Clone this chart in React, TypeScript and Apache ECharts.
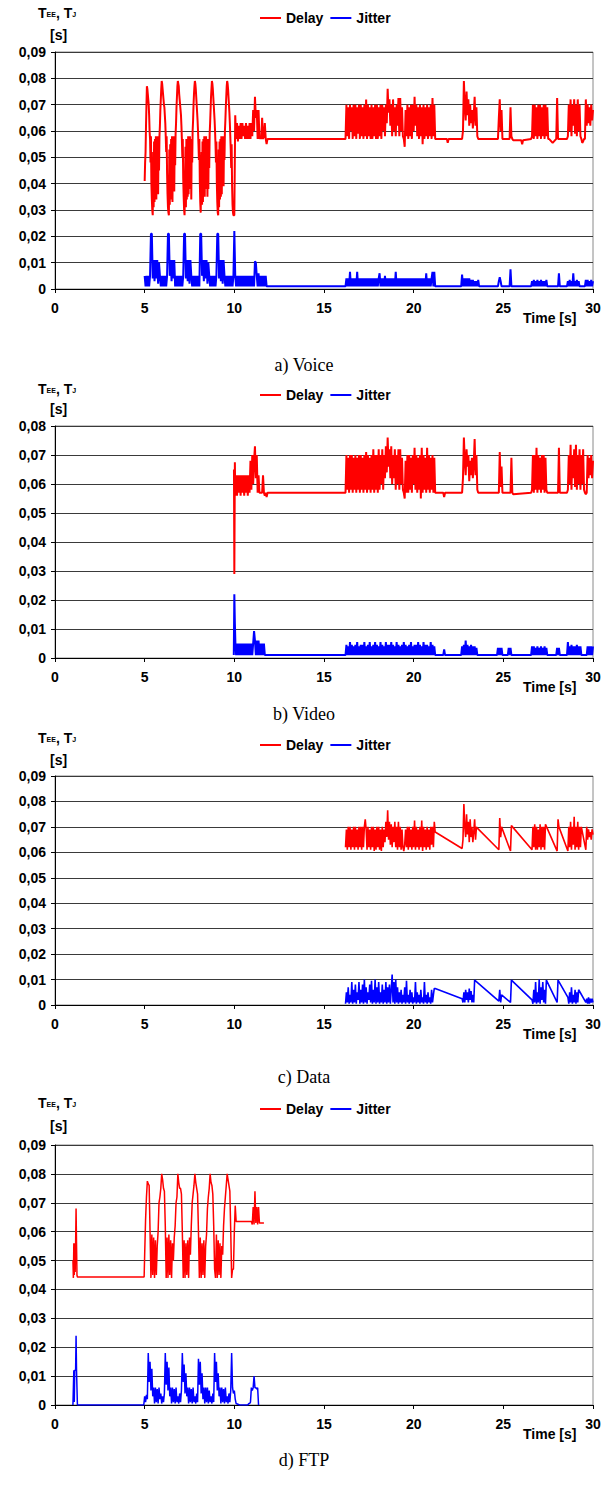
import React, { useEffect, useRef } from "react";
import * as echarts from "echarts";

// Each segment: [start time (s), time step (s), values in ms]
type Seg = [number, number, number[]];

const xTickStep = 5;
const xMax = 30;
const yMaxes = [0.09, 0.08, 0.09, 0.09];
const captions = ["a) Voice", "b) Video", "c) Data", "d) FTP"];
const seriesNames = ["Delay", "Jitter"];

// ---------- a) Voice ----------
const voiceDelay: Seg[] = [
  [5.0, 0.025, [
    41,48,52,62,70,77,76,74,72,70,66,60,57,48,58,40,34,30,
    28,52,31,56,33,57,35,58,34,57,38,58,36,57,45,58, 62,68,72,76, 79,78, 76,74,72,70,69,66,63,58,52,58,44,36,31,29,
    28,53,32,55,34,57,36,58,33,56,39,58,37,57,47,59, 63,69,73,77, 79,78, 77,74,72,70,68,66,62,57,50,57,42,35,30,28,
    28,54,31,57,34,56,35,58,36,57,40,58,38,56,34,57,48,60, 64,70,74,77, 79,78, 76,73,70,67,64,60,55,49,57,41,33,29,
    29,52,32,56,33,57,36,58,35,57,38,58,40,57,35,56,38,57,46,59, 63,68,73,76, 79,78, 76,73,70,67,64,60,55,48,56,40,33,29,
    28,53,31,56,34,57,35,58,36,57,41,58,39,57,49,60, 64,69,73,77, 79,78, 76,73,70,67,63,58,53,46,55,39,32,29,
    28,28,28]],
  [10.05, 0.05, [66,57,63,56,62,57,63,57,63,58,62,57,63,57,62,57,63,57,63,58,68,60,73,65,68,57,68,57,58,57,65,57,58,63,57,55]],
  [11.85, 4.3, [57,57]],
  [16.2, 0.05, [57,70,58,69,57,70,60,69,57,70, 58,70,57,69,59,70,57,70,58,69, 57,70,58,72,57,70,58,69,57,70, 57,69,58,70,57,70,57,69,58,70, 57,70,60,69,58,70,63,76,67,72, 62,70,58,72,60,69,58,70,62,72.5, 58,72.5,60,69,58,57,54,68,58,70, 57,69,58,70,57,70,60,73,62,70, 58,69,57,70,58,69,55,70,57,69, 58,70,57,69,58,70,57,72.5,58,70, 57]],
  [21.25, 0.6, [57,57]],
  [21.9, 0.05, [55.5,57]],
  [22.0, 0.65, [57,57]],
  [22.7, 0.05, [57,60,79,70,64,75,66,72,62,70,63,68,61,66,73,62,69,58,57]],
  [23.65, 1.05, [57,57]],
  [24.75, 0.05, [65,72,60,68,57]],
  [25.0, 0.35, [57,57]],
  [25.4, 0.05, [69,58,57]],
  [25.55, 0.45, [56.5,56.5]],
  [26.05, 0.05, [55,56.5]],
  [26.1, 0.45, [56.5,57]],
  [26.6, 0.05, [58,70,57,70,58,69,57,70,58,70,57,69,58,70,57,70,58,69,57]],
  [27.55, 0.2, [57,55.5,57]],
  [28.0, 0.05, [72.5,57]],
  [28.1, 0.45, [57,57]],
  [28.6, 0.05, [58,70,60,72,58,70,62,72,59,70,58,72,60,70,58,57]],
  [29.4, 0.05, [55.5,56,57,57,72]],
  [29.65, 0.05, [62,70,63,69,62,70,64,68]],
];
const voiceJitter: Seg[] = [
  [5.0, 0.05, [5,1,5,1,5,1,5,21,21,4, 11,3,11,4,11,2,10,5,1,5, 1,5,1,5,1,5,21,21,5,11, 3,11,4,11,1,5,1,5,1,5, 1,5,1,5,21,21,4,11,3,11, 2,11,5,1,5,1,5,1,5,1, 5,1,21,21,5,11,3,11,4,11, 2,10,5,1,5,1,5,1,5,1, 5,21,21,4,11,3,11,2,11,5, 1,5,1,5,1,5,1,5,1,5, 22]],
  [10.05, 0.05, [5,1,5,1,5,1,5,1,5,1,5,1,5,1,5,1,5,1,5,1,5,1,10.5,10,5,1,6,1,5,1,5,1,5,1,5,1]],
  [11.85, 4.3, [1,1]],
  [16.2, 0.05, [1,4,1,4,1,6.5,1,4,1,4, 1,4,1,6.5,1,4,1,4,1,4, 1,4,1,4,1,4,1,4,1,4, 1,4,1,4,1,4,1,4,6,1, 4,1,4,1,5,1,4,1,4,1, 4,1,4,1,4,1,6.5,1,4,1, 4,1,4,1,4,1,4,1,4,1, 4,1,4,1,4,1,4,1,4,1, 4,1,4,1,4,1,4,1,4,1, 6,1,4,1,4,1,4,6.5,1,6.5, 1]],
  [21.25, 1.4, [1,1]],
  [22.7, 0.05, [5.5,1,4,1,4,1,4,1,4,1,3.5,1,3.5,1,3,1,3,1,3.5,1,1]],
  [23.75, 0.95, [1,1]],
  [24.75, 0.05, [3,4.5,3,1]],
  [24.95, 0.4, [1,1]],
  [25.4, 0.05, [7.5,1]],
  [25.5, 1.05, [1,1]],
  [26.6, 0.05, [3,1,3.5,1,3,1,3.5,1,3,1,3.5,1,3,1,3,1,3.5,1,1]],
  [27.55, 0.5, [1,1]],
  [28.1, 0.05, [6,1,1]],
  [28.25, 0.3, [1,1]],
  [28.6, 0.05, [3,1,3.5,1,3,1,6,1,3,1,3.5,1,3,1,1]],
  [29.35, 0.2, [1,1]],
  [29.6, 0.05, [3.5,1,3.5,1,3,1,3.5,1,3]],
];

// ---------- b) Video ----------
const videoDelay: Seg[] = [
  [9.98, 0.02, [65,29]],
  [10.03, 0.02, [67.5]],
  [10.05, 0.05, [56,63,56,63,57,63,56,63,57,63,56,63,57,63,56,63,57,68,58,70,60,68,73,62,70,57,63,57,57,57,57,63,57,56,57]],
  [11.8, 0.05, [55.5,57]],
  [11.9, 4.25, [57,57]],
  [16.2, 0.05, [57,70,58,69,57,70,58,70,57,69, 58,70,57,69,58,70,57,70,58,69, 57,70,58,71,57,70,58,69,57,70, 58,72,57,70,58,70,57,72,58,70, 60,72,58,70,62,73,64,76,66,72, 62,73,60,70,62,72,58,70,60,72, 58,72,60,69,58,57,55,68,57,70, 57,70,58,69,57,70,60,72.5,58,70, 57,69,58,70,55,72.5,57,70,58,69, 57,72.5,58,70,57,69,58,70,57,69, 57]],
  [21.25, 0.4, [57,57]],
  [21.7, 0.05, [55.5,57]],
  [21.8, 0.85, [57,57]],
  [22.7, 0.05, [57,62,76,68,63,72,66,70,61,68,63,69,62,67,75.5,63,70,58,57]],
  [23.65, 1.1, [57,57]],
  [24.8, 0.05, [71,59,66,57]],
  [25.0, 0.4, [57,57]],
  [25.45, 0.05, [69,57]],
  [25.55, 1.0, [56.5,57]],
  [26.6, 0.05, [58,70,57,70,58,72.5,57,70,58,69,57,70,58,70,57,69,58,57]],
  [27.5, 0.55, [57,57]],
  [28.1, 0.05, [72.5,57]],
  [28.2, 0.35, [57,57]],
  [28.6, 0.05, [58,70,60,73.5,58,70,62,72,59,73.5,58,70,60,72,58,70,60,72,58,57]],
  [29.6, 0.05, [56.5,57,70,62,69,63,70,62,68]],
];
const videoJitter: Seg[] = [
  [9.97, 0.03, [1,22,12,5]],
  [10.1, 0.05, [1,5,1,5,1,5,1,5,1,5,1,5,1,5,1,5,1,5,1,5,9.3,6,1,6,1,6,1,5,1,5,1,5,1]],
  [11.75, 4.4, [1,1]],
  [16.2, 0.05, [1,4.5,1,4,1,5.5,1,4.5,1,4, 1,4.5,1,5.5,1,4,1,4.5,1,4.5, 1,5.5,1,4,1,4.5,1,5.5,1,4, 1,4.5,1,5.5,1,4.5,1,4,1,5.5, 1,4.5,1,4,1,5.5,1,4.5,1,4.5, 1,5.5,1,4.5,1,4,1,5.5,1,4.5, 1,4,1,4.5,1,5.5,1,4.5,1,4, 1,4.5,1,5.5,1,4,1,4.5,1,4.5, 1,5.5,1,4.5,1,4,1,5.5,1,4.5, 1,4.5,1,4,1,5.5,1,4.5,1,4, 1]],
  [21.25, 0.4, [1,1]],
  [21.7, 0.05, [3,1]],
  [21.8, 0.85, [1,1]],
  [22.7, 0.05, [4,1,4.5,1,6,1,4.5,1,4,1,4.5,1,4,1,4,1,3.5,1,1]],
  [23.65, 1.0, [1,1]],
  [24.7, 0.05, [3.5,1,3.5,1,3.5,1,1]],
  [25.05, 0.2, [1,1]],
  [25.3, 0.05, [3.5,1,3.5,1,1]],
  [25.55, 1.0, [1,1]],
  [26.6, 0.05, [4,1,4,1,3.5,1,4,1,3.5,1,4,1,3.5,1,4,1,3.5,1,1]],
  [27.55, 0.4, [1,1]],
  [28.0, 0.05, [3.5,1,3.5,1,1]],
  [28.25, 0.3, [1,1]],
  [28.6, 0.05, [5.5,1,4,1,4.5,1,4,1,4,1,4.5,1,4,1,4,1,1]],
  [29.45, 0.2, [1,1]],
  [29.7, 0.05, [4,1,4,1,4,1,4]],
];

// ---------- c) Data ----------
const dataDelay: Seg[] = [
  [16.2, 0.05, [62,69,61,70,62,70,61,69,62,70, 61,70,62,69,61,70,62,70,61,70, 62,70,73,69,61,70,62,69,61,70, 62,70,60.5,69,61,70,62,70,61,69, 60.5,70,62,69,64,72,66,76.5,65,72, 63,71,62,70,64,72,62,70,61,72, 62,70,61,69,62,60.5,63,69,62,70, 61,70,62,69,61,70,62,72.5,61,70, 62,69,61,70,62,72.5,60.5,70,62,69, 61,70,62,69,61,70,63,70,62,72, 68]],
  [22.7, 0.05, [61.5,65,79,70,66,75,67,72,64,73,66,70,64,68,73,65,70,69.5]],
  [24.75, 0.05, [61,73.5,66,70]],
  [25.4, 0.05, [60.5,70.5]],
  [26.6, 0.05, [61,70,62,71,61,70,61,69,62,71,61,70,62,70,61,71]],
  [28.0, 0.05, [60.5,73,70]],
  [28.6, 0.05, [60.5,70,62,72,61,70,63,74,61,70,62,72,61,70,62,70]],
  [29.6, 0.05, [61,70,65,69,66,68,65,69,67]],
];
const dataJitter: Seg[] = [
  [16.2, 0.05, [0.5,5,1,7,0.5,4,1,9,0.5,6, 1,8,0.5,5,2,9,0.5,6,1,8, 0.5,10,1,7,0.5,5,2,8,1,9.5, 0.5,6,1,10,0.5,7,1,9,0.5,5, 1,8,0.5,6,1,9,0.5,7,1,8, 0.5,6,12,1,9,0.5,10,1,7,0.5, 5,1,6,0.5,4,1,7,0.5,9.5,1, 4,0.5,6,1,5,0.5,3,1,9,0.5, 5,1,4,0.5,6,1,3,0.5,9,1, 4,0.5,5,1,3,0.5,6,1,4,6.5, 6.5]],
  [22.7, 0.05, [2.5,1,5,1,6,2,5,1,6.5,2,5.5,1,4,1,9.8]],
  [24.75, 0.05, [1.5,6,1,4]],
  [25.4, 0.05, [1,9.8]],
  [26.6, 0.05, [2,0.5,6,1,9,0.5,5,1,10,0.5,7,2,9,1,6,0.5,9.8]],
  [28.0, 0.05, [1,9.8]],
  [28.6, 0.05, [3,0.5,5,1,7,0.5,4,1,6,0.5,5,1,6]],
  [29.6, 0.05, [1,2.5,0.5,3,0.5,2.5,1,2.5,1]],
];

// ---------- d) FTP ----------
const ftpDelay: Seg[] = [
  [1.0, 0.025, [50,44,56,45,56,46,56,68,56,45,44.3,44.3]],
  [4.97, 0.03, [44.3]],
  [5.0, 0.05, [52,64,72,77.5,76.5,76,60,44,59,45, 58,44,57,45,55,60,70,72,75,80, 78,75,74,62,44,58,44,59,45,57, 44,56,50,58,62,70,72,80,77,75, 75,73,60,44,57,44,56,45,57,44, 58,52,62,70,73,76,80,77,75,73, 60,44,58,44,56,45,57,44,55,59, 68,72,75,80,77,76,73,62,47,44, 59,44,57,45,56,44,55,52,62,68, 72,76,80,78,76,74,60,44,47,47, 60,69,63.5,63.5]],
  [10.2, 0.75, [63.5,63.5]],
  [11.0, 0.05, [62.5,68.5,62.5,74,63,68.5,62.5,68.5,63,63]],
  [11.65, 0.05, [63]],
];
const ftpJitter: Seg[] = [
  [1.0, 0.025, [0,6,12,1,12,12,12,24,12,12,0]],
  [4.95, 0.05, [0]],
  [5.0, 0.05, [3,1,3.5,2,18,8,15,5,12.5,3, 6,0.5,6,1,5.5,0.5,6,2,4,0.5, 3,1,4,18,7,15,5,13,3,6, 0.5,6,1,5.5,0.5,6,1,3,0.5,4, 1,5,18,8,14,4,11,3,6,0.5, 6,1,5.5,0.5,6,1,3,0.5,4,1, 16,7,15,4,11,2,6,0.5,6,1, 6,0.5,5,1,3,0.5,4,1,18,8, 15,5,11,3,6,0.5,6,1,5.5,0.5, 6,1,3,0.5,4,1,5,18,6,4, 5,2,0.5]],
  [10.3, 0.45, [0,0]],
  [10.8, 0.05, [0.5,0.5,1,6,5,6,10,6,6,5.5,6,0]],
];

const delaySets = [voiceDelay, videoDelay, dataDelay, ftpDelay];
const jitterSets = [voiceJitter, videoJitter, dataJitter, ftpJitter];

// ---------- layout (pixels) ----------
const plotLeft = 55;
const plotWidth = 538;
const plotTops = [52, 426, 776, 1145];
const plotBottoms = [289, 658, 1005, 1405];
const headYs = [15, 391, 740, 1105];
const unitYs = [35, 409, 760, 1126];
const legendTops = [10, 387, 737, 1101];
const captionYs = [365, 714, 1077, 1460];
const lineWidths = [2, 2, 1.6, 1.5];

const SANS = "'Liberation Sans', Arial, sans-serif";
const SERIF = "'Liberation Serif', 'Times New Roman', serif";

function toPoints(segs: Seg[]): number[][] {
  const out: number[][] = [];
  segs.forEach(([t0, dt, vals]) => {
    vals.forEach((v, i) => {
      out.push([Math.round((t0 + i * dt) * 1000) / 1000, v / 1000]);
    });
  });
  return out;
}

function fmtY(v: number) {
  if (v === 0) return "0";
  return v.toFixed(2).replace(".", ",");
}

export default function App() {
  const ref = useRef<HTMLDivElement>(null);
  useEffect(() => {
    document.body.style.margin = "0";
    if (!ref.current) return;
    const chart = echarts.init(ref.current, undefined, { renderer: "svg" });
    const grids: any[] = [];
    const xAxes: any[] = [];
    const yAxes: any[] = [];
    const series: any[] = [];
    const legends: any[] = [];
    const elements: any[] = [];
    for (let p = 0; p < 4; p++) {
      grids.push({
        left: plotLeft,
        width: plotWidth,
        top: plotTops[p],
        height: plotBottoms[p] - plotTops[p],
        show: true,
        borderColor: "#8a8a8a",
        borderWidth: 1,
        backgroundColor: "transparent",
      });
      xAxes.push({
        type: "value",
        gridIndex: p,
        min: 0,
        max: xMax,
        interval: xTickStep,
        axisLine: { show: true, onZero: false, lineStyle: { color: "#000", width: 1 } },
        axisTick: { show: true, length: 4, lineStyle: { color: "#000" } },
        splitLine: { show: false },
        axisLabel: { color: "#000", fontSize: 14, fontWeight: "bold", fontFamily: SANS, margin: 12 },
      });
      yAxes.push({
        type: "value",
        gridIndex: p,
        min: 0,
        max: yMaxes[p],
        interval: 0.01,
        axisLine: { show: true, lineStyle: { color: "#000", width: 1 } },
        axisTick: { show: true, length: 4, lineStyle: { color: "#000" } },
        splitLine: { show: true, lineStyle: { color: "#3a3a3a", width: 1 } },
        axisLabel: { color: "#000", fontSize: 14, fontWeight: "bold", fontFamily: SANS, margin: 9, formatter: fmtY },
      });
      series.push({
        type: "line",
        name: seriesNames[0],
        xAxisIndex: p,
        yAxisIndex: p,
        data: toPoints(delaySets[p]),
        symbol: "none",
        showSymbol: false,
        silent: true,
        lineStyle: { color: "#ff0000", width: lineWidths[p] },
        itemStyle: { color: "#ff0000" },
      });
      series.push({
        type: "line",
        name: seriesNames[1],
        xAxisIndex: p,
        yAxisIndex: p,
        data: toPoints(jitterSets[p]),
        symbol: "none",
        showSymbol: false,
        silent: true,
        lineStyle: { color: "#0000ff", width: lineWidths[p] },
        itemStyle: { color: "#0000ff" },
      });
      legends.push({
        top: legendTops[p],
        left: 260,
        padding: 0,
        icon: "rect",
        itemWidth: 21,
        itemHeight: 2,
        itemGap: 7,
        data: seriesNames,
        selectedMode: false,
        textStyle: { color: "#000", fontSize: 14, fontWeight: "bold", fontFamily: SANS, lineHeight: 16 },
      });
      elements.push({
        type: "text",
        left: 38,
        top: headYs[p] - 9,
        style: {
          text: "{b|T}{s|EE}{b|, T}{s|J}",
          rich: {
            b: { fontSize: 14, fontWeight: "bold", fontFamily: SANS, fill: "#000" },
            s: { fontSize: 7, fontWeight: "bold", fontFamily: SANS, fill: "#000", padding: [3, 0, 0, 0] },
          },
        },
      });
      elements.push({
        type: "text",
        x: 50,
        y: unitYs[p],
        style: { text: "[s]", fill: "#000", font: `bold 14px ${SANS}`, verticalAlign: "middle", align: "left" },
      });
      elements.push({
        type: "text",
        x: 523,
        y: plotBottoms[p] + 29,
        style: { text: "Time [s]", fill: "#000", font: `bold 14px ${SANS}`, verticalAlign: "middle", align: "left" },
      });
      elements.push({
        type: "text",
        x: 304,
        y: captionYs[p],
        style: { text: captions[p], fill: "#000", font: `18px ${SERIF}`, verticalAlign: "middle", align: "center" },
      });
    }
    chart.setOption({
      animation: false,
      backgroundColor: "#ffffff",
      grid: grids,
      xAxis: xAxes,
      yAxis: yAxes,
      legend: legends,
      series,
      graphic: { elements },
    });
    return () => chart.dispose();
  }, []);
  return <div ref={ref} style={{ width: 608, height: 1492, position: "absolute", left: 0, top: 0 }} />;
}
